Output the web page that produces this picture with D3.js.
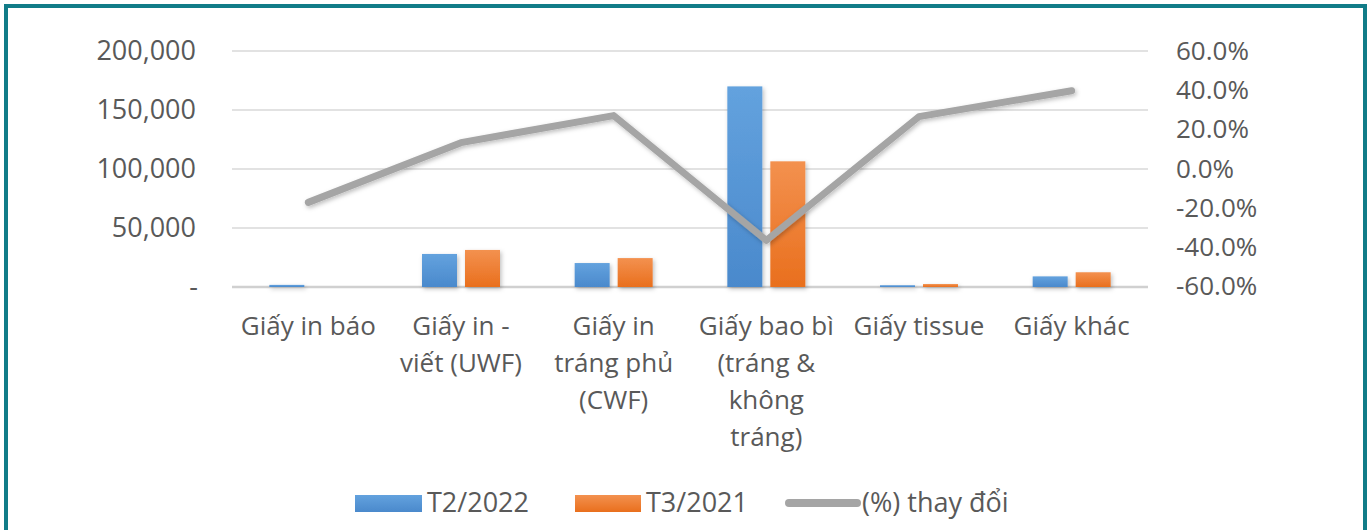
<!DOCTYPE html>
<html lang="vi">
<head>
<meta charset="UTF-8">
<title>Giấy</title>
<script src="https://d3js.org/d3.v7.min.js"></script>
<style>
    html, body { margin: 0; padding: 0; background: #fff; }
    svg text { font-family: "Open Sans", sans-serif; fill: #595959; }
</style>
</head>
<body>
<svg id="chart" width="1371" height="530"></svg>
<script>
// values
const categories = [
    ['Giấy in báo'],
    ['Giấy in -', 'viết (UWF)'],
    ['Giấy in', 'tráng phủ', '(CWF)'],
    ['Giấy bao bì', '(tráng &', 'không', 'tráng)'],
    ['Giấy tissue'],
    ['Giấy khác']
];
const t2_2022 = [1800, 28000, 20300, 170000, 1500, 9000];
const t3_2021 = [0, 31400, 24500, 106500, 2500, 12500];
const change = [-17.3, 13.2, 27.0, -36.7, 26.5, 39.7];
const leftTicks = [0, 50000, 100000, 150000, 200000];
const rightTicks = [-60, -40, -20, 0, 20, 40, 60];
const legendNames = ['T2/2022', 'T3/2021', '(%) thay đổi'];

const svg = d3.select('#chart');
const W = 1371, H = 530;
const plot = { left: 232, right: 1148, top: 51, bottom: 287 };

// frame
svg.append('rect')
    .attr('x', 6).attr('y', 6)
    .attr('width', W - 12).attr('height', H)
    .attr('fill', 'none')
    .attr('stroke', '#117c88')
    .attr('stroke-width', 4);

const defs = svg.append('defs');
function grad(id, top, bottom) {
    const g = defs.append('linearGradient').attr('id', id)
        .attr('x1', 0).attr('y1', 0).attr('x2', 0).attr('y2', 1);
    g.append('stop').attr('offset', '0%').attr('stop-color', top);
    g.append('stop').attr('offset', '100%').attr('stop-color', bottom);
}
grad('gBlue', '#63a2de', '#4a89cc');
grad('gOrange', '#f3914f', '#e96f1d');
const f = defs.append('filter').attr('id', 'shadow')
    .attr('x', '-20%').attr('y', '-20%').attr('width', '150%').attr('height', '150%');
f.append('feDropShadow').attr('dx', 1.5).attr('dy', 2).attr('stdDeviation', 2)
    .attr('flood-color', '#000').attr('flood-opacity', 0.25);

const x = d3.scaleBand()
    .domain(d3.range(categories.length))
    .range([plot.left, plot.right]);
const y = d3.scaleLinear().domain([0, 200000]).range([plot.bottom, plot.top]);
const y2 = d3.scaleLinear().domain([-60, 60]).range([plot.bottom - 1, plot.top]);

// gridlines
svg.append('g').selectAll('line')
    .data(leftTicks)
    .enter().append('line')
    .attr('x1', plot.left).attr('x2', plot.right)
    .attr('y1', d => y(d)).attr('y2', d => y(d))
    .attr('stroke', d => d === 0 ? '#d0d0d0' : '#d9d9d9')
    .attr('stroke-width', d => d === 0 ? 2.5 : 1.5);

// left axis
svg.append('g').selectAll('text')
    .data(leftTicks)
    .enter().append('text')
    .attr('x', d => d === 0 ? 198 : 196)
    .attr('y', d => y(d))
    .attr('dy', '0.35em')
    .attr('text-anchor', 'end')
    .style('font-size', '27px')
    .text(d => d === 0 ? '-' : d3.format(',')(d));

// right axis
svg.append('g').selectAll('text')
    .data(rightTicks)
    .enter().append('text')
    .attr('x', 1176)
    .attr('y', d => y2(d))
    .attr('dy', '0.35em')
    .style('font-size', '26px')
    .text(d => d.toFixed(1) + '%');

// bars
const barW = 35, gap = 8;
const bars = svg.append('g').attr('filter', 'url(#shadow)');
bars.selectAll('.b1')
    .data(t2_2022)
    .enter().append('rect')
    .attr('x', (d, i) => x(i) + x.bandwidth() / 2 - gap / 2 - barW)
    .attr('y', d => y(d))
    .attr('width', barW)
    .attr('height', d => plot.bottom - y(d))
    .attr('fill', 'url(#gBlue)');
bars.selectAll('.b2')
    .data(t3_2021)
    .enter().append('rect')
    .attr('x', (d, i) => x(i) + x.bandwidth() / 2 + gap / 2)
    .attr('y', d => y(d))
    .attr('width', barW)
    .attr('height', d => plot.bottom - y(d))
    .attr('fill', 'url(#gOrange)');

// line
const line = d3.line()
    .x((d, i) => x(i) + x.bandwidth() / 2)
    .y(d => y2(d));
svg.append('path')
    .datum(change)
    .attr('d', line)
    .attr('fill', 'none')
    .attr('stroke', '#a5a5a5')
    .attr('stroke-width', 7)
    .attr('stroke-linejoin', 'round')
    .attr('stroke-linecap', 'round')
    .attr('filter', 'url(#shadow)');

// category labels
const cat = svg.append('g').selectAll('text')
    .data(categories)
    .enter().append('text')
    .attr('x', (d, i) => x(i) + x.bandwidth() / 2)
    .attr('y', 335)
    .attr('text-anchor', 'middle')
    .style('font-size', '26px');
cat.selectAll('tspan')
    .data(d => d)
    .enter().append('tspan')
    .attr('x', function () { return d3.select(this.parentNode).attr('x'); })
    .attr('dy', (d, i) => i === 0 ? 0 : 37)
    .text(d => d);

// legend
const lg = svg.append('g');
const items = [
    { x: 355, w: 67, type: 'rect', fill: 'url(#gBlue)' },
    { x: 575, w: 66, type: 'rect', fill: 'url(#gOrange)' },
    { x: 789, w: 68, type: 'line', fill: '#a5a5a5' }
];
items.forEach((it, i) => {
    if (it.type === 'rect') {
        lg.append('rect')
            .attr('x', it.x).attr('y', 495)
            .attr('width', it.w).attr('height', 17)
            .attr('fill', it.fill);
    } else {
        lg.append('line')
            .attr('x1', it.x).attr('x2', it.x + it.w)
            .attr('y1', 503).attr('y2', 503)
            .attr('stroke', it.fill)
            .attr('stroke-width', 8)
            .attr('stroke-linecap', 'round');
    }
    lg.append('text')
        .attr('x', it.x + it.w + 5)
        .attr('y', 503)
        .attr('dy', '0.35em')
        .style('font-size', '27px')
        .text(legendNames[i]);
});
</script>
</body>
</html>
